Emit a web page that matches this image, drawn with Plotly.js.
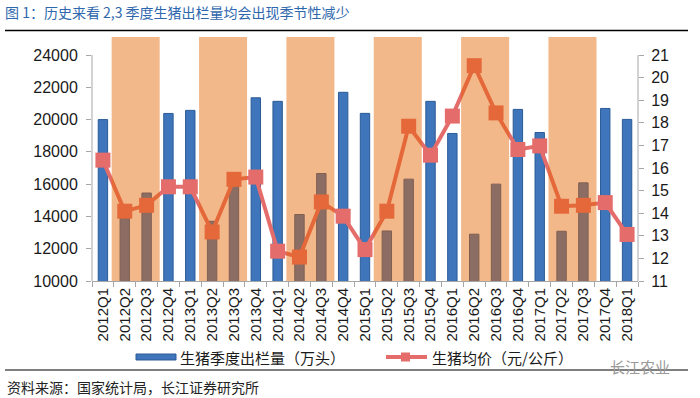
<!DOCTYPE html>
<html>
<head>
<meta charset="utf-8">
<script src="https://cdn.plot.ly/plotly-3.0.1.min.js"></script>
<style>html,body{margin:0;padding:0;background:#fff;}#chart{width:700px;height:398px;}</style>
</head>
<body>
<div id="chart"></div>
<script>
// ---- data ----
const quarters = ['2012Q1','2012Q2','2012Q3','2012Q4','2013Q1','2013Q2','2013Q3','2013Q4','2014Q1','2014Q2','2014Q3','2014Q4','2015Q1','2015Q2','2015Q3','2015Q4','2016Q1','2016Q2','2016Q3','2016Q4','2017Q1','2017Q2','2017Q3','2017Q4','2018Q1'];
const hogSupply = [20000,13900,15450,20380,20570,13700,16000,21350,21130,14120,16660,21690,20385,13100,16310,21130,19140,12900,16000,20630,19200,13080,16080,20690,20010];
const hogPrice = [16.35,14.09,14.35,15.17,15.17,13.17,15.5,15.6,12.32,12.06,14.5,13.87,12.39,14.09,17.85,16.57,18.3,20.53,18.44,16.82,16.98,14.31,14.35,14.47,13.06];
const shadedStart = ['2012Q2','2013Q2','2014Q2','2015Q2','2016Q2','2017Q2'];
const shadedEnd = ['2012Q3','2013Q3','2014Q3','2015Q3','2016Q3','2017Q3'];
const leftTicks = [10000,12000,14000,16000,18000,20000,22000,24000];
const rightTicks = [11,12,13,14,15,16,17,18,19,20,21];
const seriesNames = ['生猪季度出栏量（万头）','生猪均价（元/公斤）'];
const titleText = '图 1：历史来看 2,3 季度生猪出栏量均会出现季节性减少';
const sourceText = '资料来源：国家统计局，长江证券研究所';
const watermark = '长江农业';

const BLUE = '#3F75BA', BLUE_EDGE = '#2C5B97', PINK = '#E46C6A', AXIS = '#A6A6A6', TXT = '#1a1a1a';
const LAT = 'Liberation Sans, Arial, sans-serif';
const CJK = 'Noto Sans CJK SC, sans-serif';

const traces = [
  {type:'bar', x:quarters, y:hogSupply, name:seriesNames[0], width:0.43,
   marker:{color:BLUE, line:{color:BLUE_EDGE, width:1}}, yaxis:'y', showlegend:false, hoverinfo:'skip'},
  {type:'scatter', mode:'lines+markers', x:quarters, y:hogPrice, name:seriesNames[1], yaxis:'y2',
   line:{color:PINK, width:4}, marker:{symbol:'square', size:15, color:PINK}, showlegend:false, hoverinfo:'skip'}
];

const shapes = [];
for (let k = 0; k < shadedStart.length; k++) {
  shapes.push({type:'rect', layer:'above', xref:'x', yref:'paper',
    x0: quarters.indexOf(shadedStart[k]) - 0.6, x1: quarters.indexOf(shadedEnd[k]) + 0.6, y0:0, y1:1,
    fillcolor:'rgba(229,100,0,0.46)', line:{width:0}});
}
// axis lines limited to the tick range
shapes.push({type:'line', xref:'paper', yref:'y', x0:0, x1:0, y0:leftTicks[0], y1:leftTicks[leftTicks.length-1], line:{color:AXIS, width:1}});
shapes.push({type:'line', xref:'paper', yref:'y2', x0:1, x1:1, y0:rightTicks[0], y1:rightTicks[rightTicks.length-1], line:{color:AXIS, width:1}});
// header / footer rules
shapes.push({type:'line', xref:'paper', yref:'paper', x0:-87/546, x1:596/546, y0:1+6.5/244, y1:1+6.5/244, line:{color:'#000', width:1.5}});
shapes.push({type:'line', xref:'paper', yref:'paper', x0:-87/546, x1:596/546, y0:-89/244, y1:-89/244, line:{color:'#000', width:1.2}});
// legend swatches
shapes.push({type:'rect', xref:'paper', yref:'paper', x0:(136-92)/546, x1:(176-92)/546, y0:(281-360)/244, y1:(281-354)/244, fillcolor:BLUE, line:{color:BLUE_EDGE, width:1}});
shapes.push({type:'line', xref:'paper', yref:'paper', x0:(386-92)/546, x1:(427-92)/546, y0:(281-357)/244, y1:(281-357)/244, line:{color:PINK, width:4}});
shapes.push({type:'rect', xref:'paper', yref:'paper', x0:(401-92)/546, x1:(410-92)/546, y0:(281-361.5)/244, y1:(281-352.5)/244, fillcolor:PINK, line:{width:0}});

const annotations = [
  {xref:'paper', yref:'paper', x:(178-92)/546, y:(281-357)/244, xanchor:'left', yanchor:'middle', showarrow:false, text:seriesNames[0], font:{family:CJK, size:15, color:TXT}},
  {xref:'paper', yref:'paper', x:(430-92)/546, y:(281-357)/244, xanchor:'left', yanchor:'middle', showarrow:false, text:seriesNames[1], font:{family:CJK, size:15, color:TXT}},
  {xref:'paper', yref:'paper', x:(5-92)/546, y:(281-387)/244, xanchor:'left', yanchor:'middle', showarrow:false, text:sourceText, font:{family:CJK, size:14, color:'#222'}},
  {xref:'paper', yref:'paper', x:(608-92)/546, y:(281-366)/244, xanchor:'left', yanchor:'middle', showarrow:false, text:watermark, font:{family:CJK, size:15, color:'#9a9a9a'}}
];

const layout = {
  width:700, height:398,
  margin:{l:92, r:62, t:37, b:117, pad:0},
  paper_bgcolor:'#fff', plot_bgcolor:'rgba(0,0,0,0)',
  title:{text:titleText, x:5/700, xanchor:'left', xref:'container', yref:'container', y:1-13/398, yanchor:'middle', font:{family:CJK, size:14, color:'#2E67AD'}},
  showlegend:false,
  xaxis:{type:'category', range:[-0.5, quarters.length-0.5], tickangle:-90, tickson:'boundaries', ticks:'outside', ticklen:5, tickcolor:AXIS,
    showline:true, linecolor:AXIS, linewidth:1, showgrid:false, zeroline:false, tickfont:{family:LAT, size:15, color:TXT}, fixedrange:true},
  yaxis:{range:[10000, 25116], tickvals:leftTicks, ticktext:leftTicks.map(String), ticks:'outside', ticklen:5, tickcolor:AXIS, showline:false,
    showgrid:false, zeroline:false, tickfont:{family:LAT, size:16, color:TXT}, ticklabelstandoff:5},
  yaxis2:{overlaying:'y', side:'right', range:[11, 21.8], tickvals:rightTicks, ticks:'outside', ticklen:5, tickcolor:AXIS, showline:false,
    showgrid:false, zeroline:false, tickfont:{family:LAT, size:16, color:TXT}, ticklabelstandoff:4},
  shapes:shapes, annotations:annotations, bargap:0.5
};

Plotly.newPlot('chart', traces, layout, {staticPlot:true, displayModeBar:false});
</script>
</body>
</html>
